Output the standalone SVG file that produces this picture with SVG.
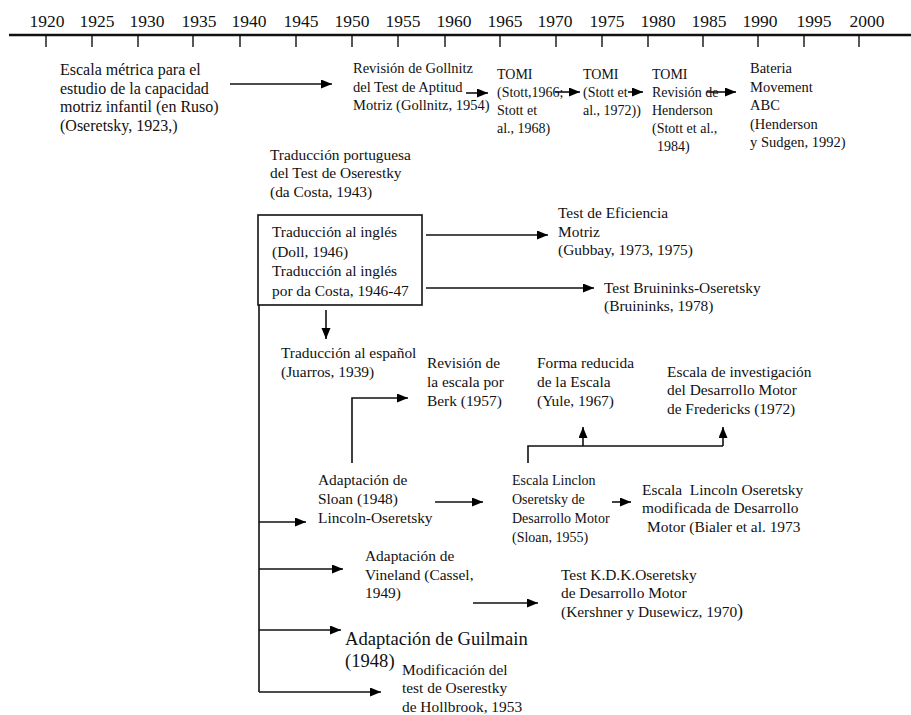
<svg xmlns="http://www.w3.org/2000/svg" width="911" height="715" viewBox="0 0 911 715">
<defs>
<marker id="ah" markerUnits="userSpaceOnUse" markerWidth="12" markerHeight="10" refX="11" refY="4.5" orient="auto">
<path d="M0,0 L11,4.5 L0,9 z" fill="#000"/>
</marker>
<style>
text{font-family:"Liberation Serif","Times New Roman",serif;font-size:15.4px;fill:#111}
.yr{font-size:17.5px;text-anchor:middle}
.big{font-size:18.6px}
.f16{font-size:16px}
.f14{font-size:14px}
.f145{font-size:14.5px}
.ln{stroke:#111;stroke-width:1.6;fill:none}
.ar{stroke:#111;stroke-width:1.6;fill:none;marker-end:url(#ah)}
</style>
</defs>
<rect width="911" height="715" fill="#fff"/>
<g id="timeline">
<line x1="9" y1="35" x2="911" y2="35" stroke="#111" stroke-width="2.4"/>
<g stroke="#111" stroke-width="1.4">
<line x1="46" y1="35" x2="46" y2="47"/><line x1="92" y1="35" x2="92" y2="47"/><line x1="138" y1="35" x2="138" y2="47"/><line x1="193" y1="35" x2="193" y2="47"/><line x1="240" y1="35" x2="240" y2="47"/><line x1="296" y1="35" x2="296" y2="47"/><line x1="352" y1="35" x2="352" y2="47"/><line x1="398" y1="35" x2="398" y2="47"/><line x1="445" y1="35" x2="445" y2="47"/><line x1="500" y1="35" x2="500" y2="47"/><line x1="556" y1="35" x2="556" y2="47"/><line x1="602" y1="35" x2="602" y2="47"/><line x1="648" y1="35" x2="648" y2="47"/><line x1="703" y1="35" x2="703" y2="47"/><line x1="758" y1="35" x2="758" y2="47"/><line x1="804" y1="35" x2="804" y2="47"/><line x1="859" y1="35" x2="859" y2="47"/>
</g>
<text class="yr" x="47" y="27">1920</text><text class="yr" x="97" y="27">1925</text><text class="yr" x="147" y="27">1930</text><text class="yr" x="199" y="27">1935</text><text class="yr" x="249" y="27">1940</text><text class="yr" x="301" y="27">1945</text><text class="yr" x="352" y="27">1950</text><text class="yr" x="403" y="27">1955</text><text class="yr" x="454" y="27">1960</text><text class="yr" x="505" y="27">1965</text><text class="yr" x="555" y="27">1970</text><text class="yr" x="607" y="27">1975</text><text class="yr" x="658" y="27">1980</text><text class="yr" x="709" y="27">1985</text><text class="yr" x="760" y="27">1990</text><text class="yr" x="814" y="27">1995</text><text class="yr" x="867" y="27">2000</text>
</g>
<g id="n-oseretsky" class="f16"><text class="f16" x="60" y="75">Escala métrica para el</text><text class="f16" x="60" y="94">estudio de la capacidad</text><text class="f16" x="60" y="112">motriz infantil (en Ruso)</text><text class="f16" x="60" y="131">(Oseretsky, 1923,)</text></g>
<g id="n-gollnitz"><text class="f145" x="353" y="73">Revisión de Gollnitz</text><text class="f145" x="353" y="92">del Test de Aptitud</text><text class="f145" x="353" y="110">Motriz (Gollnitz, 1954)</text></g>
<g id="n-tomi1"><text class="f14" x="497" y="79">TOMI</text><text class="f14" x="497" y="97">(Stott,1966;</text><text class="f14" x="497" y="115">Stott et</text><text class="f14" x="497" y="133">al., 1968)</text></g>
<g id="n-tomi2"><text class="f14" x="583" y="79">TOMI</text><text class="f14" x="583" y="97">(Stott et</text><text class="f14" x="583" y="115">al., 1972))</text></g>
<g id="n-tomi3"><text class="f14" x="652" y="79">TOMI</text><text class="f14" x="652" y="97">Revisión de</text><text class="f14" x="652" y="115">Henderson</text><text class="f14" x="652" y="133">(Stott et al.,</text><text class="f14" x="657" y="151">1984)</text></g>
<g id="n-abc"><text class="f145" x="750" y="73">Bateria</text><text class="f145" x="750" y="91.5">Movement</text><text class="f145" x="750" y="110">ABC</text><text class="f145" x="750" y="128.5">(Henderson</text><text class="f145" x="750" y="147">y Sudgen, 1992)</text></g>
<g id="n-portuguesa"><text x="270" y="160">Traducción portuguesa</text><text x="270" y="178">del Test de Oserestky</text><text x="270" y="197">(da Costa, 1943)</text></g>
<g id="n-ingles"><rect x="258" y="215" width="164" height="90" fill="none" stroke="#111" stroke-width="1.6"/><text x="272" y="237">Traducción al inglés</text><text x="272" y="257">(Doll, 1946)</text><text x="272" y="276">Traducción al inglés</text><text x="272" y="296">por da Costa, 1946-47</text></g>
<g id="n-eficiencia"><text x="558" y="218">Test de Eficiencia</text><text x="558" y="237">Motriz</text><text x="558" y="255">(Gubbay, 1973, 1975)</text></g>
<g id="n-bruininks"><text x="604" y="293">Test Bruininks-Oseretsky</text><text x="604" y="311">(Bruininks, 1978)</text></g>
<g id="n-espanol"><text x="281" y="358">Traducción al español</text><text x="281" y="377">(Juarros, 1939)</text></g>
<g id="n-berk"><text x="427" y="368">Revisión de</text><text x="427" y="387">la escala por</text><text x="427" y="406">Berk (1957)</text></g>
<g id="n-yule"><text x="537" y="368">Forma reducida</text><text x="537" y="387">de la Escala</text><text x="537" y="406">(Yule, 1967)</text></g>
<g id="n-fredericks"><text x="667" y="377">Escala de investigación</text><text x="667" y="395">del Desarrollo Motor</text><text x="667" y="414">de Fredericks (1972)</text></g>
<g id="n-sloan"><text x="318" y="485">Adaptación de</text><text x="318" y="504">Sloan (1948)</text><text x="318" y="523">Lincoln-Oseretsky</text></g>
<g id="n-linclon"><text class="f14" x="512" y="485">Escala Linclon</text><text class="f14" x="512" y="504">Oseretsky de</text><text class="f14" x="512" y="523">Desarrollo Motor</text><text class="f14" x="512" y="542">(Sloan, 1955)</text></g>
<g id="n-bialer"><text x="642" y="495" xml:space="preserve">Escala  Lincoln Oseretsky</text><text x="642" y="513">modificada de Desarrollo</text><text x="647" y="532">Motor (Bialer et al. 1973</text></g>
<g id="n-vineland"><text x="365" y="561">Adaptación de</text><text x="365" y="580">Vineland (Cassel,</text><text x="365" y="598">1949)</text></g>
<g id="n-kdk"><text x="561" y="580">Test K.D.K.Oseretsky</text><text x="561" y="598">de Desarrollo Motor</text><text x="561" y="617">(Kershner y Dusewicz, 1970<tspan font-size="18">)</tspan></text></g>
<g id="n-guilmain"><text class="big" x="345" y="645">Adaptación de Guilmain</text><text class="big" x="345" y="667">(1948)</text></g>
<g id="n-hollbrook"><text x="402" y="675">Modificación del</text><text x="402" y="693">test de Oserestky</text><text x="402" y="712">de Hollbrook, 1953</text></g>
<g id="connectors">
<line class="ar" x1="230" y1="84" x2="332" y2="84"/>
<line class="ar" x1="466" y1="93" x2="488" y2="93"/>
<line class="ar" x1="555" y1="92" x2="580" y2="92"/>
<line class="ar" x1="628" y1="92" x2="643" y2="92"/>
<line class="ar" x1="707" y1="92" x2="736" y2="92"/>
<line class="ar" x1="426" y1="235" x2="548" y2="235"/>
<line class="ar" x1="426" y1="288" x2="594" y2="288"/>
<line class="ar" x1="326" y1="310" x2="326" y2="339"/>
<line class="ln" x1="259" y1="305" x2="259" y2="692"/>
<polyline class="ar" points="352,463 352,398 408,398"/>
<polyline class="ln" points="528,463 528,446 723,446"/>
<line class="ar" x1="583" y1="446" x2="583" y2="427"/>
<line class="ar" x1="723" y1="446" x2="723" y2="427"/>
<line class="ar" x1="259" y1="522" x2="306" y2="522"/>
<line class="ar" x1="435" y1="502" x2="483" y2="502"/>
<line class="ar" x1="612" y1="502" x2="631" y2="502"/>
<line class="ar" x1="259" y1="569" x2="343" y2="569"/>
<line class="ar" x1="473" y1="603" x2="538" y2="603"/>
<line class="ar" x1="259" y1="630" x2="341" y2="630"/>
<line class="ar" x1="259" y1="692" x2="381" y2="692"/>
</g>
</svg>
